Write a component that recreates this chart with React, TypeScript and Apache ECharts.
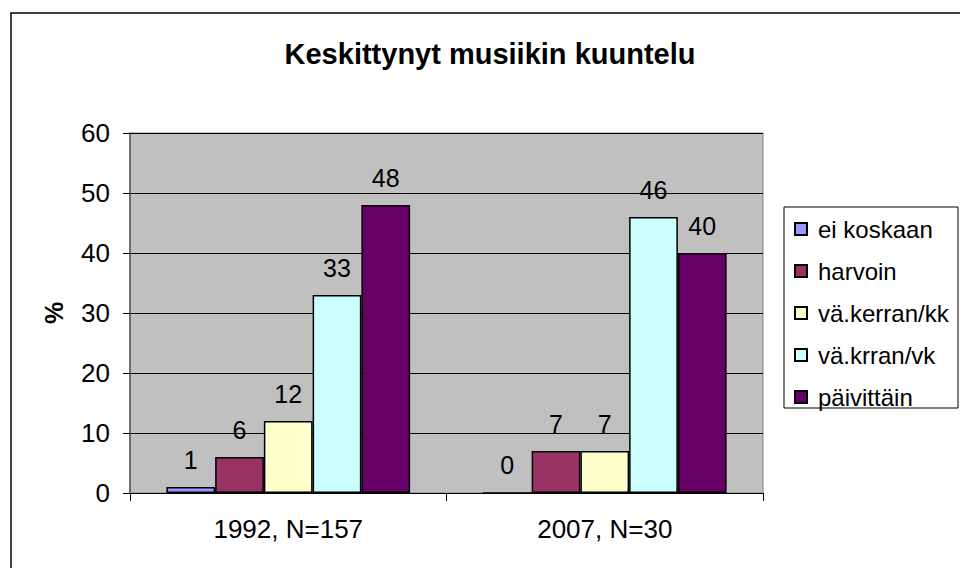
import React, { useEffect, useRef } from "react";
import * as echarts from "echarts";

const categories = ["1992, N=157", "2007, N=30"];
const seriesNames = ["ei koskaan", "harvoin", "vä.kerran/kk", "vä.krran/vk", "päivittäin"];
const eiKoskaan = [1, 0];
const harvoin = [6, 7];
const kerranKk = [12, 7];
const krranVk = [33, 46];
const paivittain = [48, 40];
const seriesValues = [eiKoskaan, harvoin, kerranKk, krranVk, paivittain];
const seriesColors = ["#9999FF", "#993366", "#FFFFCC", "#CCFFFF", "#660066"];
const titleText = "Keskittynyt musiikin kuuntelu";
const yAxisName = "%";

const FONT = "'Liberation Sans', Arial, sans-serif";

export default function App() {
  const ref = useRef<HTMLDivElement>(null);
  useEffect(() => {
    if (!ref.current) return;
    const chart = echarts.init(ref.current, null, { renderer: "svg" });
    chart.setOption({
      animation: false,
      backgroundColor: "#ffffff",
      textStyle: { fontFamily: FONT },
      graphic: [
        {
          type: "rect",
          shape: { x: 11, y: 13, width: 1200, height: 1200 },
          style: { fill: "none", stroke: "#000", lineWidth: 1.5 },
          silent: true,
        },
        {
          type: "rect",
          shape: { x: 784, y: 207, width: 174, height: 201 },
          style: { fill: "#fff", stroke: "#000", lineWidth: 1 },
          silent: true,
          z: 1,
        },
        {
          type: "text",
          x: 490,
          y: 39,
          style: {
            text: titleText,
            fontFamily: FONT,
            fontSize: 29,
            fontWeight: "bold",
            fill: "#000",
            textAlign: "center",
            textVerticalAlign: "top",
          },
        },
      ],
      legend: {
        orient: "vertical",
        left: 794,
        top: 217,
        padding: 0,
        itemWidth: 12,
        itemHeight: 12,
        itemGap: 18,
        icon: "rect",
        z: 5,
        textStyle: { fontFamily: FONT, fontSize: 24, color: "#000", padding: [0, 0, 0, 6] },
        data: seriesNames,
      },
      grid: {
        left: 130,
        right: 197,
        top: 133,
        bottom: 75,
        show: true,
        backgroundColor: "#C0C0C0",
        borderColor: "#808080",
        borderWidth: 1,
      },
      xAxis: {
        type: "category",
        data: categories,
        axisLine: { show: true, lineStyle: { color: "#000", width: 1 } },
        axisTick: { show: true, length: 8, lineStyle: { color: "#000" } },
        axisLabel: { fontFamily: FONT, fontSize: 26, color: "#000", margin: 23 },
      },
      yAxis: {
        type: "value",
        min: 0,
        max: 60,
        interval: 10,
        name: yAxisName,
        nameLocation: "middle",
        nameRotate: 90,
        nameGap: 64,
        nameTextStyle: { fontFamily: FONT, fontSize: 25, fontWeight: "bold", color: "#000" },
        axisLine: { show: true, lineStyle: { color: "#555", width: 1.5 } },
        axisTick: { show: true, length: 7, lineStyle: { color: "#000" } },
        axisLabel: { fontFamily: FONT, fontSize: 26, color: "#000", margin: 20 },
        splitLine: { show: true, lineStyle: { color: "#000", width: 1 } },
      },
      series: seriesNames.map((name, i) => ({
        name,
        type: "bar",
        data: seriesValues[i],
        barGap: "0%",
        barCategoryGap: "23%",
        itemStyle: { color: seriesColors[i], borderColor: "#000", borderWidth: 1.5 },
        label: {
          show: true,
          position: "top",
          distance: 15,
          fontFamily: FONT,
          fontSize: 25,
          color: "#000",
        },
      })),
    });
    return () => chart.dispose();
  }, []);
  return (
    <div
      ref={ref}
      style={{ position: "fixed", left: 0, top: 0, width: 960, height: 568 }}
    />
  );
}
